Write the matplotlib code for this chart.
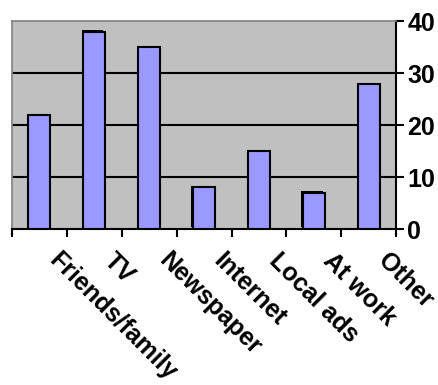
import numpy as np
import matplotlib
matplotlib.use('Agg')
import matplotlib.pyplot as plt
import matplotlib.transforms as mtransforms

categories = ['Friends/family', 'TV', 'Newspaper', 'Internet', 'Local ads', 'At work', 'Other']
values = [22, 38, 35, 8, 15, 7, 28]
y_ticks = [0, 10, 20, 30, 40]

# bars that show the dark 3d edge in the original
shadowed = [False, True, False, True, False, True, False]

plt.rcParams['font.family'] = ['Liberation Sans', 'DejaVu Sans']

fig = plt.figure(figsize=(4.38, 3.85), dpi=100)
ax = fig.add_axes([0.0274, 0.405, 0.877, 0.54])

x = np.arange(len(categories))
ax.set_facecolor('#C0C0C0')

# dark edge behind some bars
shift = mtransforms.ScaledTranslation(-1.8 / 100, 1.6 / 100, fig.dpi_scale_trans)
sh = ax.bar(x, values, width=0.4, color='black', linewidth=0, zorder=2)
for patch, on in zip(sh, shadowed):
    patch.set_transform(ax.transData + shift)
    patch.set_visible(on)

ax.bar(x, values, width=0.4, color='#9999FF', edgecolor='black', linewidth=1.5, zorder=3)

ax.set_xlim(-0.5, len(categories) - 0.5)
ax.set_ylim(0, 40)

# gridlines
for t in y_ticks[1:-1]:
    ax.axhline(t, color='black', linewidth=1.5, zorder=1)

# y axis on the right
ax.yaxis.tick_right()
ax.set_yticks(y_ticks)
ax.set_yticklabels([str(t) for t in y_ticks], fontsize=18, fontweight='bold')
ax.tick_params(axis='y', direction='out', length=6, width=1.5, pad=2)

# category boundary ticks on x
ax.set_xticks(np.arange(len(categories) + 1) - 0.5)
ax.set_xticklabels([])
ax.tick_params(axis='x', direction='out', length=6, width=1.5)

for s in ['left', 'top']:
    ax.spines[s].set_color('#808080')
    ax.spines[s].set_linewidth(1.2)
for s in ['right', 'bottom']:
    ax.spines[s].set_color('black')
    ax.spines[s].set_linewidth(1.5)

# rotated category labels
offset = mtransforms.ScaledTranslation(22 / 100, -19 / 100, fig.dpi_scale_trans)
for i, name in enumerate(categories):
    ax.text(i, 0, name, transform=mtransforms.blended_transform_factory(ax.transData, ax.transAxes) + offset,
            rotation=-45, rotation_mode='anchor', ha='left', va='top',
            fontsize=18, fontweight='bold')

fig.savefig('out.png', dpi=100)
